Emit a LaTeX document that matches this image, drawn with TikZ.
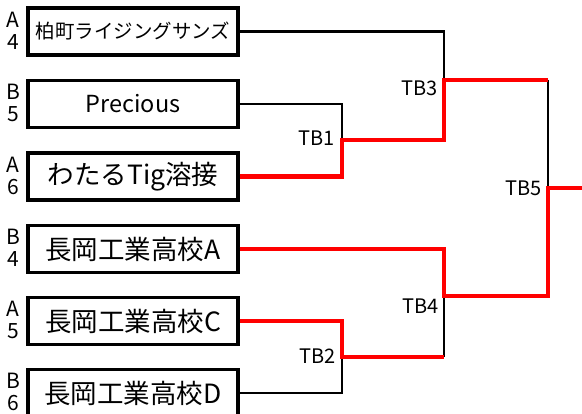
\documentclass[tikz,border=0pt]{standalone}
\usepackage{fontspec}
\setmainfont{Noto Sans CJK JP}
\usepackage{tikz}
\usetikzlibrary{calc}

\begin{document}
\begin{tikzpicture}[x=1pt, y=-1pt]

% Set the size of the picture
\clip (0,0) rectangle (582,414);

% Define styles for teams, seeds and match labels
\tikzstyle{team} = [draw=black, line width=3.4pt, minimum width=210pt, minimum height=47pt, inner sep=0pt, font=\fontsize{26.5pt}{28pt}\selectfont]
\tikzstyle{seed} = [inner sep=0pt, font=\fontsize{21pt}{23pt}\selectfont]
\tikzstyle{lbl} = [inner sep=0pt, anchor=east, font=\fontsize{20pt}{22pt}\selectfont]

%Define lineas: negro para perdedor, rojo para ganador
\tikzstyle{lose} = [draw=black, line width=2.6pt]
\tikzstyle{win} = [draw=red, line width=4.6pt]

\node[team, font=\fontsize{19.5pt}{21pt}\selectfont] (t1) at (133,31.5) {柏町ライジングサンズ};
\node[team, font=\fontsize{23.5pt}{25pt}\selectfont] (t2) at (133,104) {Precious};
\node[team] (t3) at (133,176.5) {わたるTig溶接};
\node[team] (t4) at (133,249) {長岡工業高校A};
\node[team] (t5) at (133,321) {長岡工業高校C};
\node[team] (t6) at (133,393) {長岡工業高校D};

\node[seed] (s1a) at (13,19.5) {A};  \node[seed] (s1b) at (13,42) {4};
\node[seed] (s2a) at (13,92) {B};    \node[seed] (s2b) at (13,114.5) {5};
\node[seed] (s3a) at (13,164.5) {A}; \node[seed] (s3b) at (13,187) {6};
\node[seed] (s4a) at (13,237) {B};   \node[seed] (s4b) at (13,259.5) {4};
\node[seed] (s5a) at (13,309) {A};   \node[seed] (s5b) at (13,331.5) {5};
\node[seed] (s6a) at (13,381) {B};   \node[seed] (s6b) at (13,403.5) {6};

% Junctions
\coordinate (j1) at (342,140);
\coordinate (j2) at (342,357);
\coordinate (j3) at (444,80);
\coordinate (j4) at (444,296);
\coordinate (j5) at (548,188);
\coordinate (k3) at (548,80);
\coordinate (k2) at (444,357);
\coordinate (out) at (582,188);

\draw[lose] (t1.east) -| (j3);
\draw[lose] (t2.east) -| (j1);
\draw[lose] (t6.east) -| (j2);
\draw[lose] (k2) -- (j4);
\draw[lose] (k3) -- (j5);

\draw[win] (t3.east) -| (j1) -| (j3) -- (k3);
\draw[win] (t5.east) -| (j2) -- (k2);
\draw[win] (t4.east) -| (j4) -| (j5) -- (out);

\node[lbl] (tb1) at (335,138) {TB1};
\node[lbl] (tb2) at (336,356) {TB2};
\node[lbl] (tb3) at (438,88) {TB3};
\node[lbl] (tb4) at (439,306) {TB4};
\node[lbl] (tb5) at (542,188) {TB5};

\end{tikzpicture}
\end{document}
